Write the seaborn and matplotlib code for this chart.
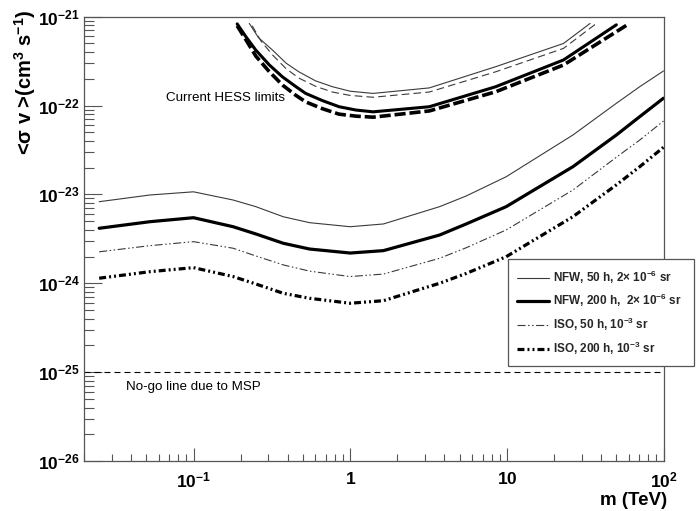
import numpy as np
import pandas as pd
import matplotlib
matplotlib.use("Agg")
import matplotlib.pyplot as plt
import seaborn as sns
from matplotlib.ticker import FixedLocator, FixedFormatter, LogLocator, NullFormatter

# ---------------- data ----------------
mass = [0.025, 0.0526, 0.1, 0.179, 0.25, 0.374, 0.55, 1.0, 1.63, 3.72, 5.5, 9.9, 26.4, 50, 70.5, 100]
nfw_50h = [8.28e-24, 9.85e-24, 1.07e-23, 8.65e-24, 7.28e-24, 5.61e-24, 4.81e-24, 4.33e-24, 4.65e-24,
           7.28e-24, 9.6e-24, 1.58e-23, 4.66e-23, 1.06e-22, 1.63e-22, 2.45e-22]
nfw_200h = [4.16e-24, 4.93e-24, 5.47e-24, 4.33e-24, 3.59e-24, 2.82e-24, 2.43e-24, 2.19e-24, 2.33e-24,
            3.49e-24, 4.65e-24, 7.28e-24, 2.05e-23, 4.66e-23, 7.5e-23, 1.21e-22]
iso_50h = [2.26e-24, 2.65e-24, 2.94e-24, 2.48e-24, 2.03e-24, 1.61e-24, 1.37e-24, 1.19e-24, 1.27e-24,
           1.91e-24, 2.51e-24, 3.98e-24, 1.12e-23, 2.62e-23, 4.09e-23, 6.7e-23]
iso_200h = [1.14e-24, 1.35e-24, 1.50e-24, 1.19e-24, 9.82e-25, 7.71e-25, 6.78e-25, 5.96e-25, 6.37e-25,
            1.0e-24, 1.29e-24, 1.99e-24, 5.61e-24, 1.28e-23, 2.05e-23, 3.39e-23]

hess_a_x = [0.19, 0.216, 0.25, 0.305, 0.37, 0.451, 0.52, 0.667, 0.85, 1.09, 1.4, 3.2, 8.5, 23, 50]
hess_a_y = [8.3e-22, 5.95e-22, 4.2e-22, 2.86e-22, 2.1e-22, 1.63e-22, 1.37e-22, 1.135e-22, 9.7e-23,
            8.9e-23, 8.5e-23, 9.7e-23, 1.63e-22, 3.26e-22, 8.1e-22]
hess_b_x = [0.19, 0.216, 0.25, 0.305, 0.37, 0.451, 0.52, 0.667, 0.85, 1.09, 1.4, 3.2, 8.5, 23, 60]
hess_b_y = [7.9e-22, 5.5e-22, 3.6e-22, 2.4e-22, 1.7e-22, 1.3e-22, 1.1e-22, 9.2e-23, 8.0e-23,
            7.6e-23, 7.4e-23, 8.7e-23, 1.43e-22, 2.86e-22, 8.3e-22]
hess_c_x = [0.227, 0.26, 0.32, 0.39, 0.47, 0.6, 0.77, 1.0, 1.4, 3.2, 8.5, 23, 34]
hess_c_y = [8.4e-22, 5.8e-22, 4.2e-22, 3.0e-22, 2.4e-22, 1.9e-22, 1.63e-22, 1.45e-22, 1.37e-22,
            1.58e-22, 2.74e-22, 5.0e-22, 8.4e-22]
hess_d_x = [0.237, 0.27, 0.32, 0.39, 0.47, 0.6, 0.77, 1.0, 1.4, 3.2, 8.5, 23, 37]
hess_d_y = [7.9e-22, 5.3e-22, 3.7e-22, 2.6e-22, 2.04e-22, 1.65e-22, 1.42e-22, 1.3e-22, 1.24e-22,
            1.42e-22, 2.4e-22, 4.4e-22, 8.3e-22]

nogo_level = 1e-25
x_limits = [0.02, 100]
y_limits = [1e-26, 1e-21]
x_ticks = [0.1, 1, 10, 100]
x_tick_labels = [r"$10^{-1}$", r"$1$", r"$10$", r"$10^{2}$"]
y_ticks = [1e-26, 1e-25, 1e-24, 1e-23, 1e-22, 1e-21]
y_tick_labels = [r"$10^{-26}$", r"$10^{-25}$", r"$10^{-24}$", r"$10^{-23}$", r"$10^{-22}$", r"$10^{-21}$"]
legend_labels = [r"NFW, 50 h, 2× 10$^{-6}$ sr", r"NFW, 200 h,  2× 10$^{-6}$ sr",
                 r"ISO, 50 h, 10$^{-3}$ sr", r"ISO, 200 h, 10$^{-3}$ sr"]

# ---------------- style ----------------
sns.set_theme(style="white")
plt.rcParams["font.family"] = ["Liberation Sans", "DejaVu Sans"]
plt.rcParams["mathtext.fontset"] = "custom"
plt.rcParams["mathtext.rm"] = "Liberation Sans"
plt.rcParams["mathtext.bf"] = "Liberation Sans:bold"
plt.rcParams["mathtext.it"] = "Liberation Sans:italic"
plt.rcParams["mathtext.default"] = "bf"
plt.rcParams["lines.scale_dashes"] = False

fig = plt.figure(figsize=(6.96, 5.11), dpi=100)
fig.patch.set_facecolor("white")
ax = fig.add_axes([84 / 696, 1 - 461 / 511, (663.5 - 84) / 696, (461 - 16.7) / 511])
ax.set_facecolor("white")
ax.set_xscale("log")
ax.set_yscale("log")

thin_c = "#3a3a3a"


def draw(x, y, lw, color, ls):
    sns.lineplot(x=x, y=y, ax=ax, color=color, lw=lw, linestyle=ls, sort=False, estimator=None)
    return ax.lines[-1]


# HESS limits
draw(hess_c_x, hess_c_y, 0.8, thin_c, "-")
draw(hess_d_x, hess_d_y, 0.8, thin_c, (0, (5.5, 3.0)))
draw(hess_a_x, hess_a_y, 2.2, "black", "-")
draw(hess_b_x, hess_b_y, 2.6, "black", (0, (8.0, 2.8)))

# sensitivity curves
h1 = draw(mass, nfw_50h, 0.8, thin_c, "-")
h2 = draw(mass, nfw_200h, 2.3, "black", "-")
h3 = draw(mass, iso_50h, 0.8, thin_c, (0, (5.8, 1.8, 1.1, 1.8, 1.1, 1.8)))
h4 = draw(mass, iso_200h, 2.3, "black", (0, (5.0, 2.2, 1.4, 2.2, 1.4, 2.2)))

ax.axhline(nogo_level, color="black", lw=0.8, linestyle=(0, (4.3, 2.9)))

ax.set_xlim(*x_limits)
ax.set_ylim(*y_limits)
ax.set_xlabel("")
ax.set_ylabel("")

ax.xaxis.set_major_locator(FixedLocator(x_ticks))
ax.xaxis.set_major_formatter(FixedFormatter(x_tick_labels))
ax.xaxis.set_minor_locator(LogLocator(base=10, subs=np.arange(2, 10), numticks=20))
ax.xaxis.set_minor_formatter(NullFormatter())
ax.yaxis.set_major_locator(FixedLocator(y_ticks))
ax.yaxis.set_major_formatter(FixedFormatter(y_tick_labels))
ax.yaxis.set_minor_locator(LogLocator(base=10, subs=np.arange(2, 10), numticks=20))
ax.yaxis.set_minor_formatter(NullFormatter())

ax.tick_params(axis="y", which="major", direction="in", length=13, width=0.8, color="#555555",
               left=True, right=False, labelsize=12.5, pad=3, labelcolor="black")
ax.tick_params(axis="y", which="minor", direction="in", length=7, width=0.8, color="#555555",
               left=True, right=False)
ax.tick_params(axis="x", which="major", direction="in", length=9.5, width=0.8, color="#555555",
               bottom=True, top=False, labelsize=12.5, pad=7, labelcolor="black")
ax.tick_params(axis="x", which="minor", direction="in", length=4.8, width=0.8, color="#555555",
               bottom=True, top=False)
for s in ax.spines.values():
    s.set_color("#555555")
    s.set_linewidth(0.9)
    s.set_visible(True)

# texts
fig.text(25 / 696, 1 - 10 / 511, r"<σ v >(cm$^{3}$ s$^{-1}$)", rotation=90, ha="center", va="top",
         fontsize=14.5, fontweight="bold", color="black")
fig.text(667 / 696, 1 - 505 / 511, "m (TeV)", ha="right", va="baseline",
         fontsize=13.5, fontweight="bold", color="black")
fig.text(166 / 696, 1 - 98.3 / 511, "Current HESS limits", ha="left", va="center",
         fontsize=9.6, color="black")
fig.text(126 / 696, 1 - 387 / 511, "No-go line due to MSP", ha="left", va="center",
         fontsize=9.6, color="black")

leg = fig.legend([h1, h2, h3, h4], legend_labels, loc="upper left",
                 bbox_to_anchor=(508 / 696, 1 - 365 / 511, 186 / 696, 106 / 511), mode="expand",
                 frameon=True, fancybox=False, framealpha=1, edgecolor="#555555",
                 prop={"weight": "bold", "size": 8.5}, handlelength=2.7, handletextpad=0.3,
                 labelspacing=0.55, borderpad=0.8, borderaxespad=0)
leg.get_frame().set_linewidth(0.9)

fig.savefig("out.png", dpi=100, facecolor="white")
